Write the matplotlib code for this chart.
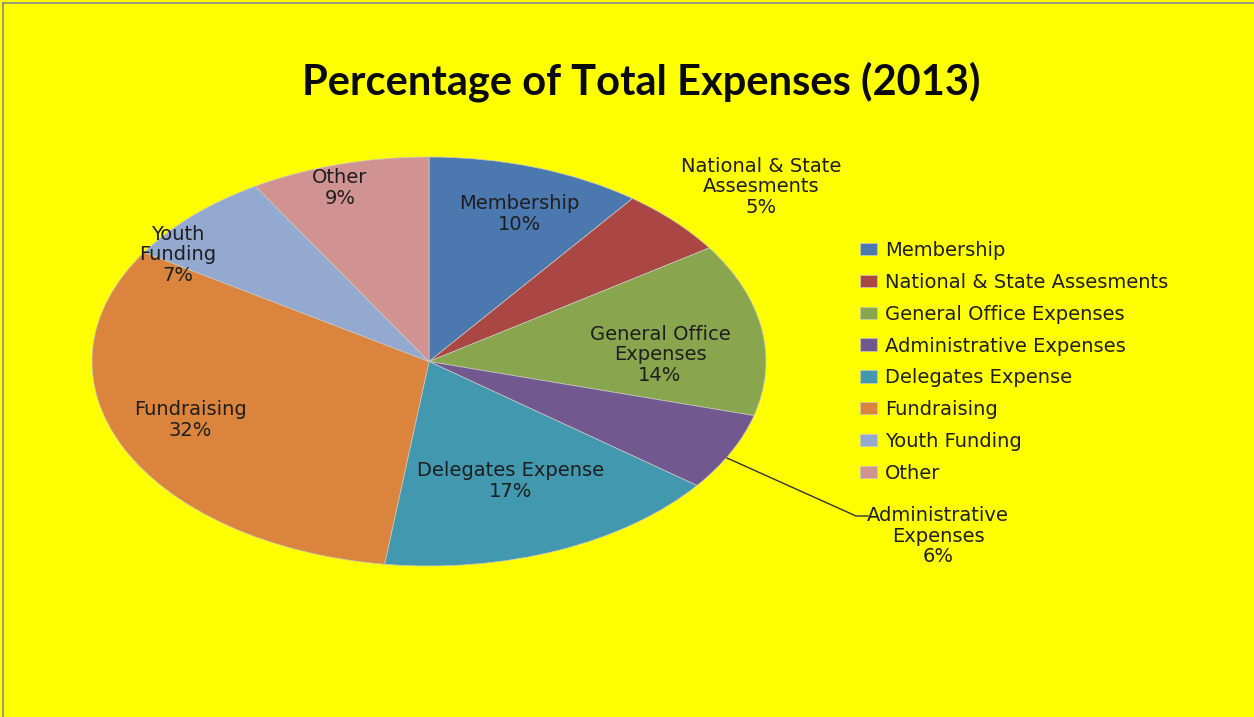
import matplotlib.pyplot as plt
from matplotlib.lines import Line2D

categories = ["Membership", "National & State Assesments", "General Office Expenses",
              "Administrative Expenses", "Delegates Expense", "Fundraising",
              "Youth Funding", "Other"]
values = [10.3, 5.3, 13.6, 6.1, 16.7, 31.8, 7.4, 8.6]
slice_labels = ["Membership", "National & State\nAssesments", "General Office\nExpenses",
                "Administrative\nExpenses", "Delegates Expense", "Fundraising",
                "Youth\nFunding", "Other"]
colors = ["#4A78AF", "#AA4643", "#89A54E", "#71588F", "#4198AF", "#DB843D",
          "#93A9CF", "#D19392"]

W, H = 1254, 717
BG = "#FFFF00"
TXT = "#1e1e1e"

fig = plt.figure(figsize=(W / 100, H / 100), dpi=100, facecolor=BG)

def fx(x):
    return x / W

def fy(y):
    return 1 - y / H

# pie is stretched horizontally in the original, so use an auto-aspect axes
left, right, top, bottom = 92, 766, 157, 566
ax = fig.add_axes([fx(left), fy(bottom), (right - left) / W, (bottom - top) / H])
wedges, _ = ax.pie(values, colors=colors, startangle=90, counterclock=False,
                   radius=1, wedgeprops=dict(linewidth=0.5, edgecolor="#c8c8c8"))
ax.set_aspect("auto")
ax.set_xlim(-1, 1)
ax.set_ylim(-1, 1)
ax.axis("off")

total = sum(values)
label_pos = [(519, 214), (761, 187), (660, 355), (938, 536),
             (511, 481), (190, 420), (178, 255), (340, 188)]
for name, v, (x, y) in zip(slice_labels, values, label_pos):
    fig.text(fx(x), fy(y), "%s\n%d%%" % (name, round(v / total * 100)),
             ha="center", va="center", fontsize=14, color=TXT,
             family="DejaVu Sans", linespacing=1.12)

# leader line for the small admin slice
fig.add_artist(Line2D([fx(727), fx(856), fx(868)], [fy(458), fy(516), fy(516)],
                      color="#333333", lw=1))

fig.text(fx(641), fy(82), "Percentage of Total Expenses (2013)", ha="center",
         va="center", fontsize=30, fontweight="bold", family=["Lato", "DejaVu Sans"],
         color="#0a0a0a")

leg = fig.legend(wedges, categories, loc="upper left",
                 bbox_to_anchor=(fx(860), fy(241)), frameon=False,
                 borderpad=0, borderaxespad=0, handlelength=0.85, handleheight=0.6,
                 handletextpad=0.45, labelspacing=0.66,
                 prop=dict(family="DejaVu Sans", size=14))
for t in leg.get_texts():
    t.set_color(TXT)

# thin frame on the top and left edges
fig.add_artist(Line2D([fx(3), fx(3)], [0, fy(3)], color="#8a8a8a", lw=1.2))
fig.add_artist(Line2D([fx(3), 1], [fy(3), fy(3)], color="#8a8a8a", lw=1.2))

fig.savefig("out.png", dpi=100, facecolor=BG)
